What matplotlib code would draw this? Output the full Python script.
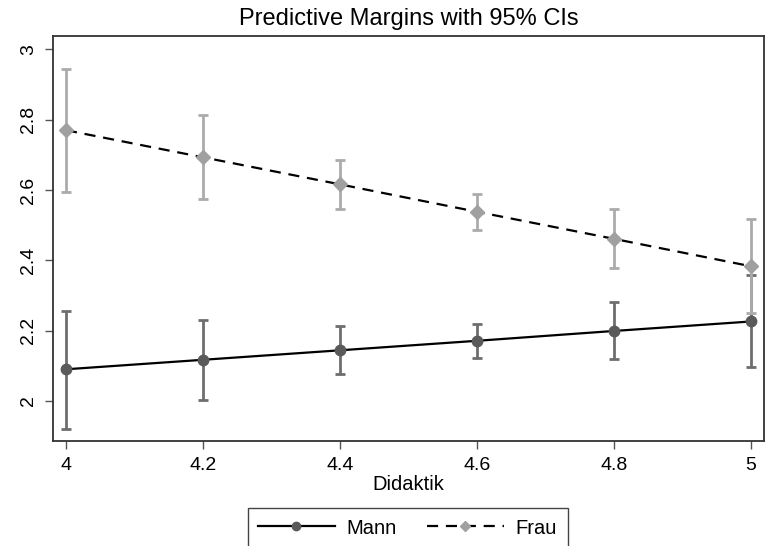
import numpy as np
import matplotlib.pyplot as plt
from matplotlib.patches import Rectangle

plt.rcParams['font.family'] = ['Liberation Sans', 'DejaVu Sans']

didaktik = [4.0, 4.2, 4.4, 4.6, 4.8, 5.0]

mann = [2.090, 2.117, 2.144, 2.171, 2.199, 2.226]
mann_lo = [1.920, 2.003, 2.077, 2.122, 2.118, 2.096]
mann_hi = [2.257, 2.231, 2.212, 2.220, 2.280, 2.357]

frau = [2.770, 2.693, 2.616, 2.538, 2.461, 2.383]
frau_lo = [2.595, 2.573, 2.545, 2.487, 2.377, 2.250]
frau_hi = [2.945, 2.813, 2.686, 2.590, 2.545, 2.517]

yticks = [2, 2.2, 2.4, 2.6, 2.8, 3]
xticks = [4, 4.2, 4.4, 4.6, 4.8, 5]

mann_col = '#5a5a5a'
mann_ci = '#6e6e6e'
frau_col = '#a0a0a0'
frau_ci = '#ababab'

W, H = 768, 546
fig = plt.figure(figsize=(W / 100, H / 100), dpi=100)
ax = fig.add_axes([53 / W, 1 - 441 / H, (764 - 53) / W, (441 - 36) / H])

# CIs first (rcap style)
cw = 0.0066
caps_x0 = [x - cw for x in didaktik] * 2
caps_x1 = [x + cw for x in didaktik] * 2
ax.vlines(didaktik, mann_lo, mann_hi, color=mann_ci, lw=2, zorder=1)
ax.hlines(mann_lo + mann_hi, caps_x0, caps_x1, color=mann_ci, lw=2, zorder=1)
ax.vlines(didaktik, frau_lo, frau_hi, color=frau_ci, lw=2, zorder=2)
ax.hlines(frau_lo + frau_hi, caps_x0, caps_x1, color=frau_ci, lw=2, zorder=2)

ax.plot(didaktik, mann, color='black', lw=1.6, marker='o', markersize=7.5,
        markerfacecolor=mann_col, markeredgecolor=mann_col, zorder=3, label='Mann')
ax.plot(didaktik, frau, color='black', lw=1.6, ls=(0, (5, 3.5)), marker='D', markersize=7,
        markerfacecolor=frau_col, markeredgecolor=frau_col, zorder=3, label='Frau')

ax.set_xlim(3.981, 5.019)
ax.set_ylim(1.886, 3.038)
ax.set_xticks(xticks)
ax.set_xticklabels(['4', '4.2', '4.4', '4.6', '4.8', '5'])
ax.set_yticks(yticks)
ax.set_yticklabels(['2', '2.2', '2.4', '2.6', '2.8', '3'], rotation=90, va='center')
ax.tick_params(labelsize=14, length=5.5, width=1, color='#555555', pad=6)
for s in ax.spines.values():
    s.set_linewidth(1.3)
    s.set_color('#333333')
ax.set_xlabel('Didaktik', fontsize=14.5, labelpad=1)
ax.set_title('Predictive Margins with 95% CIs', fontsize=17, pad=8)

# legend box runs off the bottom edge like the original
fig.patches.append(Rectangle((248 / W, -0.05), (568 - 248) / W, 0.05 + (H - 508) / H,
                             transform=fig.transFigure, fill=False,
                             edgecolor='#444444', lw=1.0))
leg = fig.legend(loc='center left', bbox_to_anchor=(258 / W, 1 - 528 / H), ncol=2,
                 fontsize=14.5, frameon=False, handlelength=3.8, handletextpad=0.6,
                 columnspacing=1.5, borderpad=0, borderaxespad=0, markerscale=0.8)

fig.savefig('out.png', dpi=100, facecolor='white')
